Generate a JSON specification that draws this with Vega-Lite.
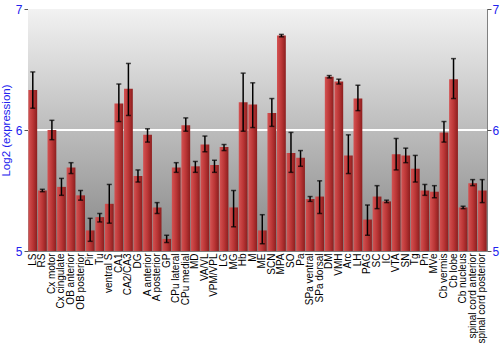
{
  "$schema": "https://vega.github.io/schema/vega-lite/v6.json",
  "autosize": {"type": "none"},
  "width": 459,
  "height": 242,
  "padding": {"left": 28, "top": 9, "right": 13, "bottom": 99},
  "background": "white",
  "config": {
    "view": {"stroke": "#808080", "strokeWidth": 1},
    "font": "Liberation Sans"
  },
  "data": {
    "values": [
      {"region": "LS", "value": 6.33, "lo": 6.18, "hi": 6.48},
      {"region": "RS", "value": 5.50, "lo": 5.49, "hi": 5.51},
      {"region": "Cx motor", "value": 6.00, "lo": 5.92, "hi": 6.08},
      {"region": "Cx cingulate", "value": 5.53, "lo": 5.46, "hi": 5.60},
      {"region": "OB anterior", "value": 5.69, "lo": 5.64, "hi": 5.73},
      {"region": "OB posterior", "value": 5.46, "lo": 5.42, "hi": 5.50},
      {"region": "Pir", "value": 5.17, "lo": 5.08, "hi": 5.27},
      {"region": "Tu", "value": 5.28, "lo": 5.24, "hi": 5.31},
      {"region": "ventral S", "value": 5.39, "lo": 5.23, "hi": 5.55},
      {"region": "CA1", "value": 6.22, "lo": 6.07, "hi": 6.38},
      {"region": "CA2/CA3", "value": 6.34, "lo": 6.12, "hi": 6.55},
      {"region": "DG", "value": 5.62, "lo": 5.57, "hi": 5.67},
      {"region": "A anterior", "value": 5.96, "lo": 5.90, "hi": 6.01},
      {"region": "A posterior", "value": 5.36, "lo": 5.31, "hi": 5.40},
      {"region": "GP", "value": 5.10, "lo": 5.07, "hi": 5.13},
      {"region": "CPu lateral", "value": 5.69, "lo": 5.65, "hi": 5.73},
      {"region": "CPu medial", "value": 6.04, "lo": 5.99, "hi": 6.10},
      {"region": "MD", "value": 5.70, "lo": 5.65, "hi": 5.74},
      {"region": "VA/VL", "value": 5.88, "lo": 5.82, "hi": 5.95},
      {"region": "VPM/VPL", "value": 5.71, "lo": 5.65, "hi": 5.75},
      {"region": "LG", "value": 5.86, "lo": 5.83, "hi": 5.88},
      {"region": "MG", "value": 5.36, "lo": 5.20, "hi": 5.50},
      {"region": "Hb", "value": 6.23, "lo": 5.99, "hi": 6.47},
      {"region": "M", "value": 6.21, "lo": 6.02, "hi": 6.39},
      {"region": "ME", "value": 5.17, "lo": 5.06, "hi": 5.30},
      {"region": "SCN", "value": 6.14, "lo": 6.03, "hi": 6.26},
      {"region": "MPA", "value": 6.78, "lo": 6.77, "hi": 6.79},
      {"region": "SO", "value": 5.81, "lo": 5.65, "hi": 5.98},
      {"region": "Pa", "value": 5.77, "lo": 5.70, "hi": 5.83},
      {"region": "SPa ventral", "value": 5.43, "lo": 5.41, "hi": 5.45},
      {"region": "SPa dorsal", "value": 5.45, "lo": 5.31, "hi": 5.58},
      {"region": "DM", "value": 6.44, "lo": 6.43, "hi": 6.45},
      {"region": "VMH", "value": 6.40, "lo": 6.38, "hi": 6.42},
      {"region": "Arc", "value": 5.79, "lo": 5.64, "hi": 5.96},
      {"region": "LH", "value": 6.26, "lo": 6.16, "hi": 6.37},
      {"region": "PAG", "value": 5.26, "lo": 5.13, "hi": 5.38},
      {"region": "SC", "value": 5.45, "lo": 5.35, "hi": 5.54},
      {"region": "IC", "value": 5.41, "lo": 5.40, "hi": 5.42},
      {"region": "VTA", "value": 5.80, "lo": 5.67, "hi": 5.93},
      {"region": "SN", "value": 5.79, "lo": 5.73, "hi": 5.85},
      {"region": "Tg", "value": 5.68, "lo": 5.57, "hi": 5.79},
      {"region": "Pn", "value": 5.50, "lo": 5.46, "hi": 5.55},
      {"region": "MVe", "value": 5.49, "lo": 5.44, "hi": 5.54},
      {"region": "Cb vermis", "value": 5.98, "lo": 5.90, "hi": 6.07},
      {"region": "Cb lobe", "value": 6.42, "lo": 6.26, "hi": 6.59},
      {"region": "Cb nucleus", "value": 5.36, "lo": 5.35, "hi": 5.37},
      {"region": "spinal cord anterior", "value": 5.56, "lo": 5.54, "hi": 5.59},
      {"region": "spinal cord posterior", "value": 5.50, "lo": 5.40, "hi": 5.59}
    ]
  },
  "encoding": {
    "x": {
      "field": "region",
      "type": "nominal",
      "sort": null,
      "scale": {"paddingInner": 0.08, "paddingOuter": 0.04},
      "axis": {
        "title": null,
        "labelAngle": -90,
        "labelAlign": "right",
        "labelBaseline": "middle",
        "labelPadding": 2,
        "labelFontSize": 10,
        "labelColor": "black",
        "labelFont": "Liberation Sans",
        "labelOverlap": false,
        "ticks": false,
        "domain": false
      }
    }
  },
  "layer": [
    {
      "mark": {
        "type": "rect",
        "color": {
          "gradient": "linear",
          "x1": 0, "y1": 0, "x2": 0, "y2": 1,
          "stops": [
            {"offset": 0, "color": "#f2f2f2"},
            {"offset": 1, "color": "#868686"}
          ]
        }
      },
      "encoding": {
        "x": null,
        "y": {
          "datum": 7,
          "type": "quantitative",
          "scale": {"domain": [5, 7], "zero": false, "nice": false},
          "axis": {
            "orient": "left",
            "values": [5, 6, 7],
            "labelExpr": "format(datum.value, '.0f')",
            "labelOverlap": false,
            "title": "Log2 (expression)",
            "titleColor": "#2222ee",
            "titleFont": "Liberation Sans",
            "titleFontSize": 11.5,
            "titleFontWeight": "normal",
            "titlePadding": 4,
            "labelColor": "#2222ee",
            "labelFont": "Liberation Sans",
            "labelFontSize": 12,
            "labelPadding": 2,
            "tickSize": 4,
            "tickColor": "#555555",
            "domain": false,
            "grid": false
          }
        },
        "y2": {"datum": 5}
      }
    },
    {
      "mark": {"type": "rule", "color": "white", "strokeWidth": 1.5},
      "encoding": {
        "x": null,
        "y": {
          "datum": 6,
          "type": "quantitative",
          "axis": {
            "orient": "right",
            "values": [5, 6, 7],
            "labelExpr": "format(datum.value, '.0f')",
            "labelOverlap": false,
            "title": null,
            "labelColor": "#2222ee",
            "labelFont": "Liberation Sans",
            "labelFontSize": 12,
            "labelPadding": 1,
            "tickSize": 4,
            "tickColor": "#555555",
            "domain": false,
            "grid": false
          }
        }
      }
    },
    {
      "mark": {
        "type": "bar",
        "clip": true,
        "color": {
          "gradient": "linear",
          "x1": 0, "y1": 0, "x2": 1, "y2": 0,
          "stops": [
            {"offset": 0, "color": "#d45252"},
            {"offset": 0.5, "color": "#bb3636"},
            {"offset": 1, "color": "#8c1e1e"}
          ]
        }
      },
      "encoding": {
        "y": {"field": "value", "type": "quantitative", "axis": null},
        "y2": {"datum": 5}
      }
    },
    {
      "mark": {"type": "rule", "color": "black", "strokeWidth": 1.5},
      "encoding": {
        "y": {"field": "lo", "type": "quantitative", "axis": null},
        "y2": {"field": "hi"}
      }
    },
    {
      "mark": {"type": "tick", "color": "black", "thickness": 1.5, "size": 5, "orient": "horizontal"},
      "encoding": {
        "y": {"field": "lo", "type": "quantitative", "axis": null}
      }
    },
    {
      "mark": {"type": "tick", "color": "black", "thickness": 1.5, "size": 5, "orient": "horizontal"},
      "encoding": {
        "y": {"field": "hi", "type": "quantitative", "axis": null}
      }
    }
  ],
  "resolve": {"axis": {"y": "independent"}}
}
